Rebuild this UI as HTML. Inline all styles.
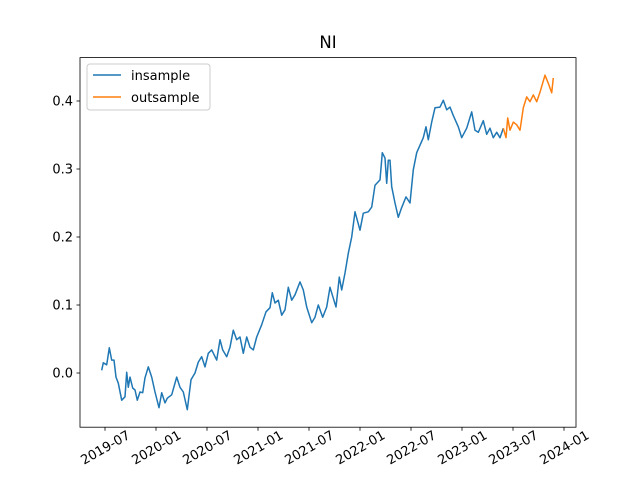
<!DOCTYPE html>
<html><head><meta charset="utf-8"><style>
html,body{margin:0;padding:0;background:#fff;}
svg{display:block;font-family:"DejaVu Sans","Liberation Sans",sans-serif;}
</style></head><body>
<svg id="chart" width="640" height="480" viewBox="0 0 640 480">
<rect width="640" height="480" fill="#fff"/>
<text x="328" y="48" font-size="16.5" text-anchor="middle">NI</text>
<g id="plot"></g>
<rect x="80" y="57.6" width="496" height="369.6" fill="none" stroke="#000" stroke-width="0.8"/>
<g>
<rect x="87" y="64" width="123" height="46" rx="3" fill="#fff" fill-opacity="0.8" stroke="#ccc" stroke-width="1"/>
<line x1="93" y1="75" x2="121" y2="75" stroke="#1f77b4" stroke-width="1.5"/>
<text x="131" y="80" font-size="13">insample</text>
<line x1="93" y1="97" x2="121" y2="97" stroke="#ff7f0e" stroke-width="1.5"/>
<text x="131" y="102" font-size="13">outsample</text>
</g>
</svg>
<script>
const xTickMonths=[6,12,18,24,30,36,42,48,54,60];
const xTickLabels=["2019-07","2020-01","2020-07","2021-01","2021-07","2022-01","2022-07","2023-01","2023-07","2024-01"];
const yTickValues=[0,0.1,0.2,0.3,0.4];
const yTickLabels=["0.0","0.1","0.2","0.3","0.4"];
const inMonths=[5.61,5.80,6.20,6.51,6.79,7.06,7.29,7.56,7.96,8.35,8.55,8.74,8.94,9.26,9.53,9.80,10.12,10.44,10.71,11.09,11.49,11.88,12.35,12.67,13.06,13.33,13.85,14.44,14.82,15.21,15.68,16.12,16.59,16.98,17.38,17.76,18.15,18.55,19.14,19.53,19.85,20.32,20.71,21.09,21.49,21.88,22.27,22.67,23.06,23.45,23.85,24.44,24.94,25.41,25.68,26.00,26.39,26.79,27.18,27.56,27.96,28.35,28.94,29.33,29.73,30.32,30.71,31.09,31.61,32.08,32.47,32.86,33.18,33.56,33.85,34.24,34.62,35.02,35.41,36.00,36.39,36.98,37.38,37.76,38.35,38.62,38.94,39.14,39.33,39.53,39.73,40.12,40.51,40.89,41.41,41.88,42.27,42.67,43.06,43.45,43.76,44.04,44.44,44.82,45.41,45.80,46.20,46.59,46.97,47.56,47.96,48.55,49.14,49.53,49.92,50.51,50.91,51.29,51.68,52.08,52.47,52.86];
const inValues=[0.004,0.015,0.012,0.037,0.019,0.019,-0.006,-0.015,-0.040,-0.035,0.001,-0.021,-0.006,-0.022,-0.025,-0.040,-0.028,-0.029,-0.007,0.009,-0.006,-0.028,-0.051,-0.029,-0.044,-0.037,-0.032,-0.006,-0.021,-0.028,-0.054,-0.010,0,0.016,0.024,0.009,0.029,0.034,0.019,0.049,0.034,0.024,0.038,0.063,0.049,0.053,0.029,0.053,0.038,0.034,0.053,0.071,0.090,0.096,0.118,0.103,0.107,0.085,0.093,0.126,0.107,0.115,0.134,0.122,0.097,0.074,0.082,0.100,0.082,0.097,0.126,0.110,0.097,0.141,0.122,0.147,0.176,0.200,0.237,0.210,0.235,0.237,0.244,0.276,0.284,0.324,0.316,0.279,0.313,0.313,0.274,0.250,0.229,0.243,0.259,0.250,0.299,0.324,0.335,0.346,0.362,0.343,0.369,0.390,0.391,0.401,0.387,0.391,0.379,0.362,0.346,0.360,0.384,0.357,0.354,0.371,0.351,0.360,0.346,0.354,0.346,0.360];
const outMonths=[52.86,53.18,53.38,53.65,54.04,54.44,54.82,55.21,55.61,56.00,56.39,56.79,57.18,57.76,58.15,58.55,58.74];
const outValues=[0.360,0.346,0.375,0.357,0.369,0.365,0.357,0.390,0.406,0.399,0.409,0.399,0.413,0.438,0.426,0.412,0.434];

const NS="http://www.w3.org/2000/svg";
const L=80,R=576,T=57.6,B=427.2;
function xScale(m){return 105+(m-6)*8.5;}
function yScale(v){return 373-680*v;}
const plot=document.getElementById('plot');
function mk(tag,attrs){const e=document.createElementNS(NS,tag);for(const k in attrs)e.setAttribute(k,attrs[k]);return e;}

xTickMonths.forEach((m,i)=>{
  const x=xScale(m);
  const t=mk('line',{x1:x,y1:B,x2:x,y2:B+3.5,stroke:'#000','stroke-width':0.8});
  
  
  plot.appendChild(t);
  const lb=mk('text',{x:x,y:452,'font-size':13,'text-anchor':'middle',transform:`rotate(-30 ${x} 447)`});
  lb.textContent=xTickLabels[i];
  
  
  plot.appendChild(lb);
});
yTickValues.forEach((v,i)=>{
  const y=yScale(v);
  const t=mk('line',{x1:L-3.5,y1:y,x2:L,y2:y,stroke:'#000','stroke-width':0.8});
  
  
  plot.appendChild(t);
  const lb=mk('text',{x:L-7,y:y+4.5,'font-size':13,'text-anchor':'end'});
  lb.textContent=yTickLabels[i];
  
  
  plot.appendChild(lb);
});
function series(ms,vs,color,name){
  const d=ms.map((m,i)=>(i?'L':'M')+xScale(m).toFixed(1)+','+yScale(vs[i]).toFixed(1)).join(' ');
  const p=mk('path',{d:d,fill:'none',stroke:color,'stroke-width':1.5,'stroke-linejoin':'round'});
  
  
  plot.appendChild(p);
}
series(inMonths,inValues,'#1f77b4','insample-line');
series(outMonths,outValues,'#ff7f0e','outsample-line');
</script>
</body></html>
